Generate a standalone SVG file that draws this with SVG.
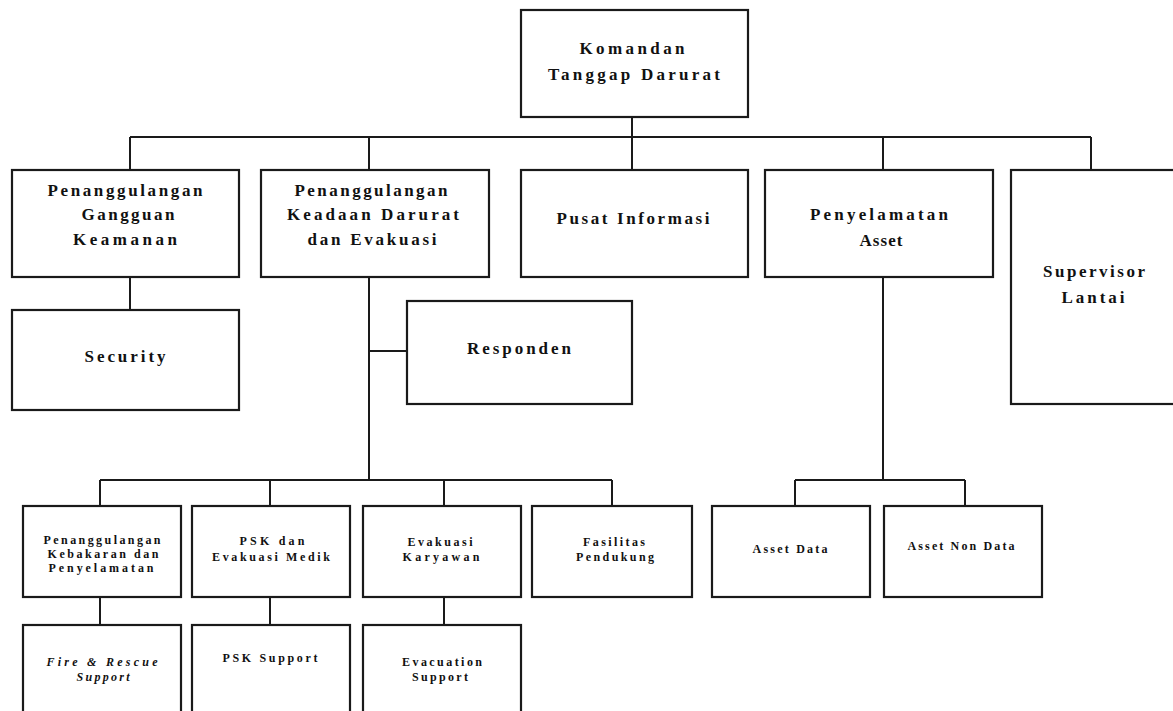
<svg xmlns="http://www.w3.org/2000/svg" width="1173" height="711" viewBox="0 0 1173 711">
<style>
.box{fill:#fff;stroke:#1a1a1a;stroke-width:2.2}
.ln{fill:none;stroke:#1a1a1a;stroke-width:2}
text{font-family:"Liberation Serif","Times New Roman",serif;font-weight:bold;fill:#111;text-anchor:middle}
.l{font-size:17px}
.s{font-size:12px}
.i{font-style:italic}
</style>
<rect width="1173" height="711" fill="#fff"/>
<g id="connectors">
<path class="ln" d="M632 117V137M130 137H1091M130 137V170M369 137V170M632 137V170M883 137V170M1091 137V170"/>
<path class="ln" d="M130 277V310M369 277V480M369 351H407M100 480H612M100 480V506M270 480V506M444 480V506M612 480V506"/>
<path class="ln" d="M883 277V480M795 480H965M795 480V506M965 480V506"/>
<path class="ln" d="M100 597V625M270 597V625M444 597V625"/>
</g>
<g id="komandan"><rect class="box" x="521" y="10" width="227" height="107"/>
<text class="l" x="632" y="54" textLength="105" lengthAdjust="spacing">Komandan</text>
<text class="l" x="634" y="80" textLength="172" lengthAdjust="spacing">Tanggap  Darurat</text></g>
<g id="gangguan"><rect class="box" x="12" y="170" width="227" height="107"/>
<text class="l" x="125" y="196" textLength="155" lengthAdjust="spacing">Penanggulangan</text>
<text class="l" x="128" y="220" textLength="93" lengthAdjust="spacing">Gangguan</text>
<text class="l" x="125" y="245" textLength="104" lengthAdjust="spacing">Keamanan</text></g>
<g id="keadaan"><rect class="box" x="261" y="170" width="228" height="107"/>
<text class="l" x="371" y="196" textLength="153" lengthAdjust="spacing">Penanggulangan</text>
<text class="l" x="373" y="220" textLength="172" lengthAdjust="spacing">Keadaan Darurat</text>
<text class="l" x="372" y="245" textLength="129" lengthAdjust="spacing">dan Evakuasi</text></g>
<g id="pusat"><rect class="box" x="521" y="170" width="227" height="107"/>
<text class="l" x="633" y="224" textLength="153" lengthAdjust="spacing">Pusat Informasi</text></g>
<g id="penyelamatan"><rect class="box" x="765" y="170" width="228" height="107"/>
<text class="l" x="879" y="220" textLength="138" lengthAdjust="spacing">Penyelamatan</text>
<text class="l" x="881" y="246" textLength="43" lengthAdjust="spacing">Asset</text></g>
<g id="supervisor"><rect class="box" x="1011" y="170" width="165" height="234"/>
<text class="l" x="1094" y="277" textLength="102" lengthAdjust="spacing">Supervisor</text>
<text class="l" x="1093" y="303" textLength="63" lengthAdjust="spacing">Lantai</text></g>
<g id="security"><rect class="box" x="12" y="310" width="227" height="100"/>
<text class="l" x="125" y="362" textLength="81" lengthAdjust="spacing">Security</text></g>
<g id="responden"><rect class="box" x="407" y="301" width="225" height="103"/>
<text class="l" x="519" y="354" textLength="104" lengthAdjust="spacing">Responden</text></g>
<g id="kebakaran"><rect class="box" x="23" y="506" width="158" height="91"/>
<text class="s" x="102" y="544" textLength="117" lengthAdjust="spacing">Penanggulangan</text>
<text class="s" x="103" y="558" textLength="111" lengthAdjust="spacing">Kebakaran dan</text>
<text class="s" x="101" y="572" textLength="105" lengthAdjust="spacing">Penyelamatan</text></g>
<g id="psk"><rect class="box" x="192" y="506" width="158" height="91"/>
<text class="s" x="272" y="545" textLength="65" lengthAdjust="spacing">PSK dan</text>
<text class="s" x="271" y="561" textLength="118" lengthAdjust="spacing">Evakuasi Medik</text></g>
<g id="evakuasi-karyawan"><rect class="box" x="363" y="506" width="158" height="91"/>
<text class="s" x="440" y="546" textLength="65" lengthAdjust="spacing">Evakuasi</text>
<text class="s" x="441" y="561" textLength="77" lengthAdjust="spacing">Karyawan</text></g>
<g id="fasilitas"><rect class="box" x="532" y="506" width="160" height="91"/>
<text class="s" x="614" y="546" textLength="62" lengthAdjust="spacing">Fasilitas</text>
<text class="s" x="615" y="561" textLength="78" lengthAdjust="spacing">Pendukung</text></g>
<g id="asset-data"><rect class="box" x="712" y="506" width="158" height="91"/>
<text class="s" x="790" y="553" textLength="75" lengthAdjust="spacing">Asset Data</text></g>
<g id="asset-non-data"><rect class="box" x="884" y="506" width="158" height="91"/>
<text class="s" x="961" y="550" textLength="107" lengthAdjust="spacing">Asset Non Data</text></g>
<g id="fire-rescue"><rect class="box" x="23" y="625" width="158" height="95"/>
<text class="s i" x="102" y="666" textLength="111" lengthAdjust="spacing">Fire  &amp; Rescue</text>
<text class="s i" x="103" y="681" textLength="53" lengthAdjust="spacing">Support</text></g>
<g id="psk-support"><rect class="box" x="192" y="625" width="158" height="95"/>
<text class="s" x="270" y="662" textLength="95" lengthAdjust="spacing">PSK Support</text></g>
<g id="evacuation-support"><rect class="box" x="363" y="625" width="158" height="95"/>
<text class="s" x="442" y="666" textLength="80" lengthAdjust="spacing">Evacuation</text>
<text class="s" x="440" y="681" textLength="56" lengthAdjust="spacing">Support</text></g>
</svg>
